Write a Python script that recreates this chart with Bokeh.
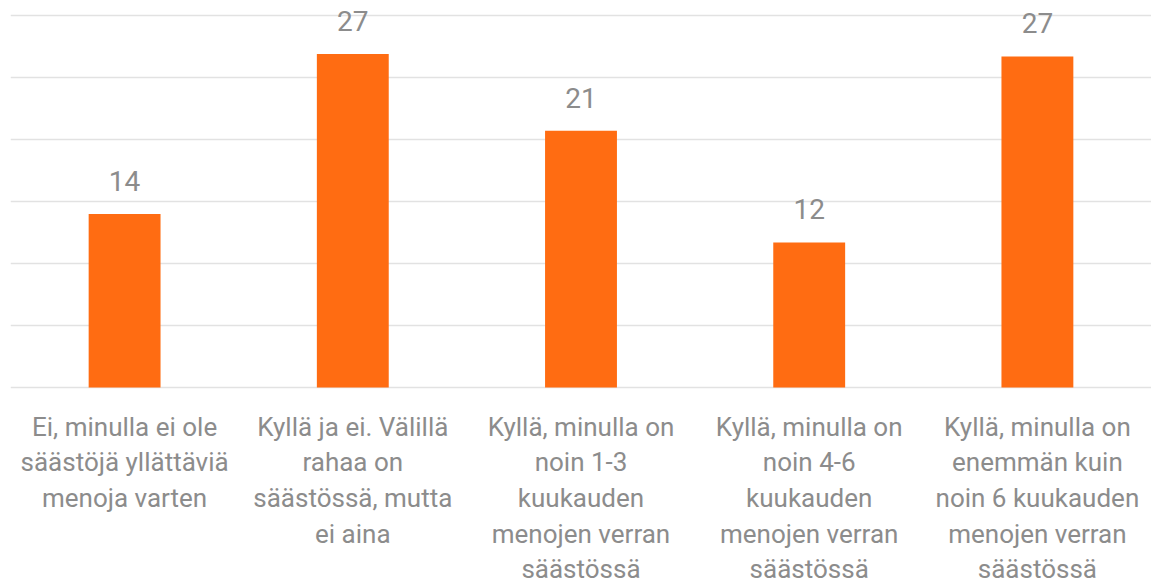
from bokeh.plotting import figure
from bokeh.models import FactorRange, Range1d, FixedTicker, ColumnDataSource
from bokeh.core.properties import value
from bokeh.embed import file_html
from bokeh.resources import INLINE

categories = [
    "Ei, minulla ei ole\nsäästöjä yllättäviä\nmenoja varten",
    "Kyllä ja ei. Välillä\nrahaa on\nsäästössä, mutta\nei aina",
    "Kyllä, minulla on\nnoin 1-3\nkuukauden\nmenojen verran\nsäästössä",
    "Kyllä, minulla on\nnoin 4-6\nkuukauden\nmenojen verran\nsäästössä",
    "Kyllä, minulla on\nenemmän kuin\nnoin 6 kuukauden\nmenojen verran\nsäästössä",
]
values = [14.0, 26.9, 20.7, 11.7, 26.7]
labels = [str(round(v)) for v in values]
y_ticks = [0, 5, 10, 15, 20, 25, 30]

FONT = "Roboto"
TEXT_COLOR = "#8c8c8c"
BAR_COLOR = "#FF6C12"

W, H = 1151, 585
GRID_TOP_PX = 15          # pixel position of the top gridline
BASE_PX = 387             # pixel position of the zero line
LEFT = 10
GRID_MAX = 30
PX_PER_UNIT = (BASE_PX - GRID_TOP_PX) / GRID_MAX
Y_MAX = GRID_MAX + GRID_TOP_PX / PX_PER_UNIT
Y_MIN = -(H - BASE_PX) / PX_PER_UNIT

src = ColumnDataSource(dict(cat=categories, val=values, lab=labels,
                            zero=[0] * len(values)))

p = figure(
    x_range=FactorRange(*categories, range_padding=0),
    y_range=Range1d(Y_MIN, Y_MAX),
    width=W, height=H,
    output_backend="svg", toolbar_location=None,
    min_border_left=LEFT, min_border_right=0, min_border_top=0, min_border_bottom=0,
)
p.outline_line_color = None
p.background_fill_color = "white"
p.border_fill_color = "white"

p.vbar(x="cat", top="val", width=0.315, source=src, fill_color=BAR_COLOR, line_color=None)

p.text(x="cat", y="val", text="lab", source=src,
       text_align="center", text_baseline="alphabetic", y_offset=-33,
       text_font=value(FONT), text_font_size="28px", text_color=TEXT_COLOR)

p.text(x="cat", y="zero", text="cat", source=src,
       text_align="center", text_baseline="top", y_offset=24,
       text_font=value(FONT), text_font_size="26px", text_color=TEXT_COLOR,
       text_line_height=1.19)

p.xaxis.visible = False
p.yaxis.visible = False
p.ygrid.ticker = FixedTicker(ticks=y_ticks)
p.ygrid.grid_line_color = "#e2e2e2"
p.ygrid.grid_line_width = 1.5
p.xgrid.grid_line_color = None

open("out.html", "w").write(file_html(p, INLINE))
